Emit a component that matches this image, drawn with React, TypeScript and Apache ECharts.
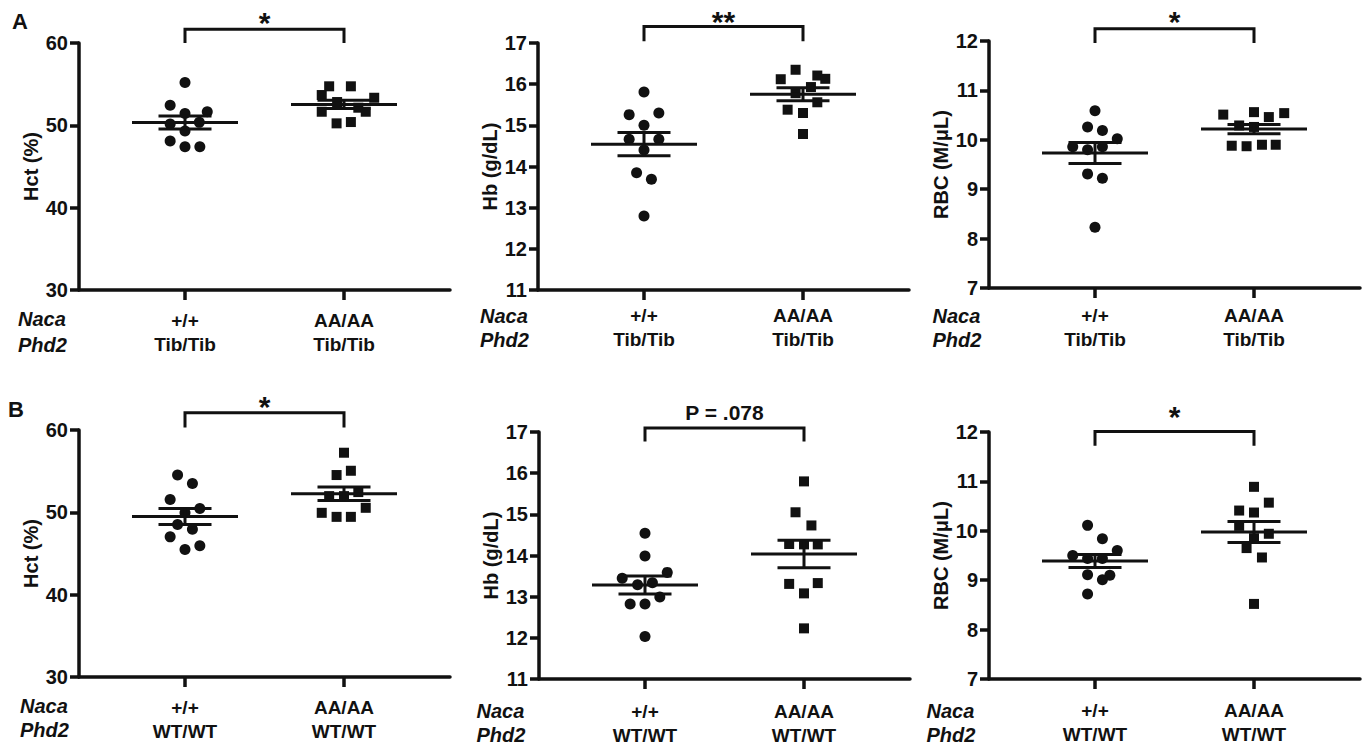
import React, { useEffect, useRef } from "react";
import * as echarts from "echarts";

const FONT = '"Liberation Sans", Arial, Helvetica, sans-serif';
const INK = "#111111";

// ---- labels ----
const nacaGenotypes = ["+/+", "AA/AA"];
const phd2Tib = ["Tib/Tib", "Tib/Tib"];
const phd2WT = ["WT/WT", "WT/WT"];
const sigLabels = ["*", "**", "*", "*", "P = .078", "*"];
const yNames = ["Hct (%)", "Hb (g/dL)", "RBC (M/\u03bcL)", "Hct (%)", "Hb (g/dL)", "RBC (M/\u03bcL)"];

// ---- Panel A (Phd2 Tib/Tib) ----
const hctTibPlus = [55.2, 52.43, 51.45, 51.65, 50.16, 50.36, 49.3, 48.1, 47.4, 47.4];
const hctTibPlusJit = [0, -0.28, 0, 0.42, -0.28, 0.27, 0, -0.28, 0, 0.28];
const hctTibAA = [54.74, 54.74, 53.68, 53.35, 52.83, 52.14, 51.65, 51.65, 50.24, 50.4];
const hctTibAAJit = [-0.28, 0.13, -0.42, 0.57, -0.13, 0.27, -0.42, 0.41, -0.14, 0.13];

const hbTibPlus = [15.81, 15.26, 15.3, 15.0, 14.66, 14.66, 14.4, 13.85, 13.69, 12.8];
const hbTibPlusJit = [0, -0.28, 0.28, 0, -0.28, 0.28, 0, -0.14, 0.14, 0];
const hbTibAA = [16.35, 16.12, 16.21, 16.13, 15.93, 15.78, 15.38, 15.3, 15.56, 14.79];
const hbTibAAJit = [-0.14, -0.42, 0.27, 0.42, 0.15, -0.14, -0.29, 0, 0.27, 0];

const rbcTibPlus = [10.59, 10.26, 10.19, 10.02, 9.86, 9.8, 9.86, 9.31, 9.22, 8.23];
const rbcTibPlusJit = [0, -0.14, 0.14, 0.42, -0.42, -0.14, 0.14, -0.14, 0.14, 0];
const rbcTibAA = [10.51, 10.56, 10.46, 10.54, 10.29, 10.26, 9.88, 9.87, 9.9, 9.9];
const rbcTibAAJit = [-0.58, 0, 0.28, 0.57, -0.28, 0, -0.42, -0.14, 0.15, 0.41];

// ---- Panel B (Phd2 WT/WT) ----
const hctWtPlus = [54.53, 53.51, 51.57, 50.47, 49.94, 48.53, 47.96, 47.02, 45.93, 45.49];
const hctWtPlusJit = [-0.14, 0.14, -0.28, 0.28, 0, -0.14, 0.14, -0.28, 0.28, 0];
const hctWtAA = [57.24, 54.53, 55.05, 51.97, 51.97, 52.46, 50.55, 49.94, 49.45, 49.45];
const hctWtAAJit = [0, -0.14, 0.13, -0.28, 0, 0.27, 0.41, -0.42, -0.14, 0.13];

const hbWtPlus = [14.54, 13.99, 13.59, 13.45, 13.34, 13.29, 12.99, 12.82, 12.82, 12.03];
const hbWtPlusJit = [0, 0, 0.42, -0.43, 0.14, -0.14, 0.28, -0.28, 0, 0];
const hbWtAA = [15.8, 15.05, 14.73, 14.28, 14.27, 14.27, 13.31, 13.33, 13.08, 12.23];
const hbWtAAJit = [0, -0.16, 0.14, -0.28, 0, 0.26, -0.28, 0.26, 0, 0];

const rbcWtPlus = [10.11, 9.84, 9.6, 9.5, 9.44, 9.44, 9.11, 9.1, 9.01, 8.72];
const rbcWtPlusJit = [-0.14, 0.14, 0.42, -0.42, -0.14, 0.14, -0.14, 0.28, 0.14, -0.14];
const rbcWtAA = [10.89, 10.57, 10.41, 10.37, 10.1, 9.94, 9.85, 9.65, 9.46, 8.52];
const rbcWtAAJit = [0, 0.28, -0.28, 0, -0.28, 0.28, 0, -0.14, 0.15, 0];

// ---- layout (positions / sizes only) ----
const GROUP_X = [2, 5];
const panels = [
  { left: 79, top: 43, yMin: 30, yMax: 60, yInt: 10, vals: [hctTibPlus, hctTibAA], jit: [hctTibPlusJit, hctTibAAJit], phd2: phd2Tib, br: [60.0, 61.66], sigY: 62.95, lm: 18, naca: [18, 320, 346] },
  { left: 538, top: 43, yMin: 11, yMax: 17, yInt: 1, vals: [hbTibPlus, hbTibAA], jit: [hbTibPlusJit, hbTibAAJit], phd2: phd2Tib, br: [17.04, 17.4], sigY: 17.63, lm: 13, naca: [480, 316.5, 340.5] },
  { left: 989, top: 41, yMin: 7, yMax: 12, yInt: 1, vals: [rbcTibPlus, rbcTibAA], jit: [rbcTibPlusJit, rbcTibAAJit], phd2: phd2Tib, br: [11.96, 12.25], sigY: 12.47, lm: 15.5, naca: [932.5, 316.5, 340.5] },
  { left: 79, top: 430, yMin: 30, yMax: 60, yInt: 10, vals: [hctWtPlus, hctWtAA], jit: [hctWtPlusJit, hctWtAAJit], phd2: phd2WT, br: [60.3, 62.1], sigY: 63.3, lm: 18, naca: [20, 706.5, 731] },
  { left: 539, top: 432, yMin: 11, yMax: 17, yInt: 1, vals: [hbWtPlus, hbWtAA], jit: [hbWtPlusJit, hbWtAAJit], phd2: phd2WT, br: [16.77, 17.1], sigY: 17.47, lm: 20.5, naca: [476.5, 711.5, 736] },
  { left: 989, top: 432, yMin: 7, yMax: 12, yInt: 1, vals: [rbcWtPlus, rbcWtAA], jit: [rbcWtPlusJit, rbcWtAAJit], phd2: phd2WT, br: [11.72, 12.01], sigY: 12.4, lm: 19.5, naca: [926.5, 711.5, 735.5] },
];

function meanSem(v: number[]): [number, number] {
  const n = v.length;
  const m = v.reduce((a, b) => a + b, 0) / n;
  const sd = Math.sqrt(v.reduce((a, b) => a + (b - m) * (b - m), 0) / (n - 1));
  return [m, sd / Math.sqrt(n)];
}

function buildOption() {
  const grid: any[] = [];
  const xAxis: any[] = [];
  const yAxis: any[] = [];
  const series: any[] = [];
  const graphic: any[] = [];

  const lineSer = (i: number, data: number[][], w = 3) => ({
    type: "line",
    xAxisIndex: i,
    yAxisIndex: i,
    data,
    symbol: "none",
    silent: true,
    clip: false,
    z: 4,
    lineStyle: { color: INK, width: w, cap: "butt", join: "miter", opacity: 1 },
  });

  panels.forEach((p, i) => {
    grid.push({ left: p.left, top: p.top, width: 371, height: 247, containLabel: false });
    xAxis.push({
      type: "value",
      gridIndex: i,
      min: 0,
      max: 7,
      splitLine: { show: false },
      axisLine: { show: true, onZero: false, lineStyle: { color: INK, width: 3.5 } },
      axisTick: { show: true, customValues: GROUP_X, length: 10, lineStyle: { color: INK, width: 3.5 } },
      axisLabel: {
        show: true,
        customValues: GROUP_X,
        margin: p.lm,
        color: INK,
        fontFamily: FONT,
        fontSize: 19,
        fontWeight: "bold",
        lineHeight: 24,
        formatter: (v: number) => {
          const k = GROUP_X.indexOf(v);
          return k < 0 ? "" : nacaGenotypes[k] + "\n" + p.phd2[k];
        },
      },
    });
    yAxis.push({
      type: "value",
      gridIndex: i,
      min: p.yMin,
      max: p.yMax,
      interval: p.yInt,
      name: yNames[i],
      nameLocation: "middle",
      nameGap: 38,
      nameTextStyle: { color: INK, fontFamily: FONT, fontSize: 20, fontWeight: "bold" },
      splitLine: { show: false },
      axisLine: { show: true, onZero: false, lineStyle: { color: INK, width: 3.5 } },
      axisTick: { show: true, length: 9, lineStyle: { color: INK, width: 3.5 } },
      axisLabel: { margin: 11, color: INK, fontFamily: FONT, fontSize: 20, fontWeight: "bold" },
    });

    p.vals.forEach((vals, g) => {
      const c = GROUP_X[g];
      series.push({
        type: "scatter",
        xAxisIndex: i,
        yAxisIndex: i,
        symbol: g === 0 ? "circle" : "rect",
        symbolSize: g === 0 ? 11 : 10,
        silent: true,
        z: 3,
        itemStyle: { color: INK, opacity: 1 },
        data: vals.map((v, k) => [c + p.jit[g][k], v]),
      });
      const [m, s] = meanSem(vals);
      series.push(lineSer(i, [[c - 1, m], [c + 1, m]]));
      series.push(lineSer(i, [[c - 0.5, m + s], [c + 0.5, m + s]]));
      series.push(lineSer(i, [[c - 0.5, m - s], [c + 0.5, m - s]]));
      series.push(lineSer(i, [[c, m - s], [c, m + s]]));
    });

    // significance bracket
    series.push(
      lineSer(i, [
        [GROUP_X[0], p.br[0]],
        [GROUP_X[0], p.br[1]],
        [GROUP_X[1], p.br[1]],
        [GROUP_X[1], p.br[0]],
      ])
    );
    const isStar = sigLabels[i].indexOf("*") >= 0;
    series.push({
      type: "scatter",
      xAxisIndex: i,
      yAxisIndex: i,
      clip: false,
      silent: true,
      symbolSize: 1,
      itemStyle: { color: "rgba(0,0,0,0)", opacity: 1 },
      data: [[(GROUP_X[0] + GROUP_X[1]) / 2, p.sigY]],
      label: {
        show: true,
        position: "inside",
        formatter: sigLabels[i],
        color: INK,
        opacity: 1,
        textBorderWidth: 0,
        fontFamily: FONT,
        fontWeight: "bold",
        fontSize: isStar ? 30 : 21,
        offset: [0, isStar ? 4 : 0],
      },
    });

    // Naca / Phd2 row labels
    graphic.push({
      type: "text",
      left: p.naca[0],
      top: p.naca[1] - 11,
      silent: true,
      style: { text: "Naca", fill: INK, fontFamily: FONT, fontSize: 20, fontWeight: "bold", fontStyle: "italic" },
    });
    graphic.push({
      type: "text",
      left: p.naca[0],
      top: p.naca[2] - 11,
      silent: true,
      style: { text: "Phd2", fill: INK, fontFamily: FONT, fontSize: 20, fontWeight: "bold", fontStyle: "italic" },
    });
  });

  graphic.push({
    type: "text",
    left: 12,
    top: 10,
    silent: true,
    style: { text: "A", fill: INK, fontFamily: FONT, fontSize: 22, fontWeight: "bold" },
  });
  graphic.push({
    type: "text",
    left: 8,
    top: 398,
    silent: true,
    style: { text: "B", fill: INK, fontFamily: FONT, fontSize: 22, fontWeight: "bold" },
  });

  return {
    animation: false,
    backgroundColor: "#ffffff",
    textStyle: { fontFamily: FONT },
    grid,
    xAxis,
    yAxis,
    series,
    graphic,
  };
}

export default function App() {
  const ref = useRef<HTMLDivElement>(null);
  useEffect(() => {
    if (!ref.current) return;
    const chart = echarts.init(ref.current, undefined, { renderer: "svg" });
    chart.setOption(buildOption() as any);
    return () => chart.dispose();
  }, []);
  return (
    <div
      ref={ref}
      style={{ position: "fixed", left: 0, top: 0, width: 1367, height: 749, background: "#fff" }}
    />
  );
}
